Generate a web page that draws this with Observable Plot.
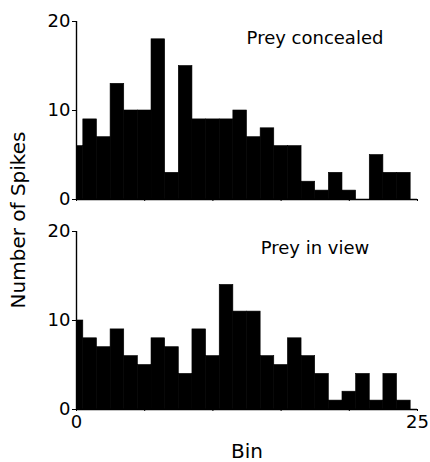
<!DOCTYPE html>
<html>
<head>
<meta charset="utf-8">
<script src="https://cdn.jsdelivr.net/npm/d3@7"></script>
<script src="https://cdn.jsdelivr.net/npm/@observablehq/plot@0.6"></script>
<style>
  body { margin: 0; background: #fff; }
  #chart { position: relative; width: 430px; height: 462px; font-family: "DejaVu Sans", sans-serif; }
  #chart svg { position: absolute; left: 0; }
  #ylabel {
    position: absolute; left: 18px; top: 220px;
    transform: translate(-50%, -50%) rotate(-90deg);
    font-size: 20px; white-space: nowrap; color: #000;
  }
</style>
</head>
<body>
<div id="chart"><div id="ylabel">Number of Spikes</div></div>
<script>
// Spike counts per time bin for the two viewing conditions
const bins = [0, 1, 2, 3, 4, 5, 6, 7, 8, 9, 10, 11, 12, 13, 14, 15, 16, 17, 18, 19, 20, 21, 22, 23, 24];
const preyConcealed = [6, 9, 7, 13, 10, 10, 18, 3, 15, 9, 9, 9, 10, 7, 8, 6, 6, 2, 1, 3, 1, 0, 5, 3, 3];
const preyInView = [10, 8, 7, 9, 6, 5, 8, 7, 4, 9, 6, 14, 11, 11, 6, 5, 8, 6, 4, 1, 2, 4, 1, 4, 1];
const panelTitles = ["Prey concealed", "Prey in view"];
const yTicks = [0, 10, 20];
const xTicks = [0, 5, 10, 15, 20, 25];
const xTickLabels = [0, 25];
const xLabel = "Bin";

function panel(values, title, height, marginBottom, withLabels) {
  const data = bins.map((b, i) => ({bin: b, count: values[i]}));
  return Plot.plot({
    width: 430,
    height,
    marginTop: 21,
    marginBottom,
    marginLeft: 76,
    marginRight: 13,
    style: {fontFamily: "DejaVu Sans", fontSize: "18px", background: "transparent", color: "#000"},
    x: {
      domain: [0, 25],
      ticks: xTicks,
      tickSize: 2,
      tickPadding: 4,
      tickFormat: d => (withLabels && xTickLabels.includes(d) ? String(d) : ""),
      label: null
    },
    y: {domain: [0, 20], ticks: yTicks, tickSize: 4, tickPadding: 2, label: null},
    marks: [
      // adjacent bins share an outline so the histogram reads as one solid shape
      Plot.rectY(data, {
        x1: d => d.bin - 0.5, x2: d => d.bin + 0.5, y: "count",
        fill: "#000", stroke: "#000", strokeWidth: 0.6, clip: true
      }),
      Plot.ruleX([0], {stroke: "#000", strokeWidth: 1.4}),
      Plot.ruleY([0], {stroke: "#000", strokeWidth: 1.4}),
      Plot.text([title], {frameAnchor: "top", dx: 68, dy: 10, lineAnchor: "top", fontSize: 18}),
      withLabels
        ? Plot.text([xLabel], {frameAnchor: "bottom", dy: 34, lineAnchor: "top", fontSize: 20})
        : null
    ]
  });
}

const chart = document.getElementById("chart");
const upper = panel(preyConcealed, panelTitles[0], 210, 11, false);
upper.style.top = "0px";
const lower = panel(preyInView, panelTitles[1], 252, 53, true);
lower.style.top = "210px";
chart.appendChild(upper);
chart.appendChild(lower);
</script>
</body>
</html>
